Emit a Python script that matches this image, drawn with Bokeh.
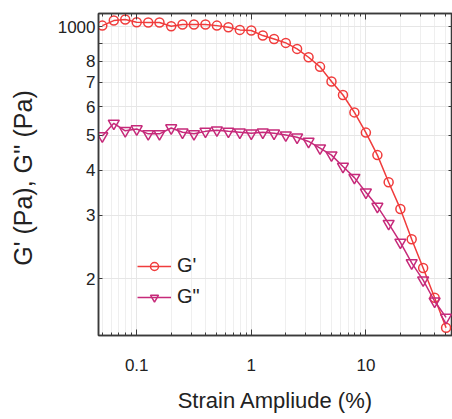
from bokeh.plotting import figure
from bokeh.models import (FixedTicker, LogAxis, CustomJSTickFormatter, Range1d)
from bokeh.embed import file_html
from bokeh.resources import INLINE

strain = [0.0501, 0.0631, 0.0794, 0.1, 0.126, 0.158, 0.2, 0.251, 0.316, 0.398,
          0.501, 0.631, 0.794, 1.0, 1.26, 1.58, 2.0, 2.51, 3.16, 3.98,
          5.01, 6.31, 7.94, 10.0, 12.6, 15.8, 20.0, 25.1, 31.6, 39.8, 50.1]
g_storage = [1006, 1039, 1046, 1028, 1026, 1026, 1002, 1013, 1013, 1013,
             1006, 996, 979, 975, 944, 924, 901, 867, 822, 773,
             704, 646, 578, 508, 440, 370, 312, 257, 214, 177, 146]
g_loss = [497, 539, 514, 520, 504, 504, 523, 509, 504, 512,
          516, 512, 509, 506, 509, 506, 500, 493, 480, 460,
          440, 409, 381, 347, 317, 284, 252, 221, 198, 173, 156]

x_ticks = [0.1, 1, 10]
y_ticks = [200, 300, 400, 500, 600, 700, 800, 900, 1000]
y_tick_labels = ["2", "3", "4", "5", "6", "7", "8", "", "1000"]

FONT = "Liberation Sans"
RED = "#f03c3c"
MAG = "#c62a7a"
FRAME = "#3a3a3a"

p = figure(width=452, height=419, x_axis_type="log", y_axis_type="log",
           x_range=Range1d(0.0464, 57), y_range=Range1d(139, 1087),
           output_backend="svg", toolbar_location=None,
           min_border_left=98, min_border_right=0, min_border_top=13, min_border_bottom=84,
           x_axis_label="Strain Ampliude (%)", y_axis_label="G' (Pa),  G'' (Pa)")

minor_x = []
for dec in [0.01, 0.1, 1, 10]:
    for m in range(2, 10):
        minor_x.append(dec * m)

xt = FixedTicker(ticks=x_ticks, minor_ticks=minor_x)
yt = FixedTicker(ticks=y_ticks, minor_ticks=[])

p.xaxis.ticker = xt
p.yaxis.ticker = yt
p.xaxis.major_label_overrides = {0.1: "0.1", 1: "1", 10: "10"}
p.yaxis.major_label_overrides = {t: l for t, l in zip(y_ticks, y_tick_labels)}

for ax in [p.xaxis[0], p.yaxis[0]]:
    ax.axis_line_color = FRAME
    ax.axis_line_width = 1.5
    ax.major_tick_line_color = FRAME
    ax.minor_tick_line_color = FRAME
    ax.major_tick_out = 0
    ax.minor_tick_out = 0
    ax.major_label_text_font = FONT
    ax.major_label_text_font_size = "17px"
    ax.major_label_text_color = "#222222"
    ax.axis_label_text_font = FONT
    ax.axis_label_text_font_style = "normal"
    ax.axis_label_text_color = "#222222"

p.xaxis.axis_label_text_font_size = "22px"
p.yaxis.axis_label_text_font_size = "25px"
p.xaxis.major_tick_in = 6
p.xaxis.minor_tick_in = 3
p.xaxis.major_label_standoff = 23
p.xaxis.axis_label_standoff = 14
p.yaxis.major_tick_in = 4
p.yaxis.minor_tick_in = 0
p.yaxis.major_label_standoff = 3
p.yaxis.axis_label_standoff = 18

blank = CustomJSTickFormatter(code="return ''")
top = LogAxis(ticker=FixedTicker(ticks=x_ticks, minor_ticks=minor_x), formatter=blank,
              major_tick_in=6, major_tick_out=0, minor_tick_in=3, minor_tick_out=0,
              major_label_standoff=0, axis_line_color=FRAME, axis_line_width=1.5,
              major_tick_line_color=FRAME, minor_tick_line_color=FRAME)
right = LogAxis(ticker=FixedTicker(ticks=y_ticks, minor_ticks=[]), formatter=blank,
                major_tick_in=4, major_tick_out=0, minor_tick_in=0, minor_tick_out=0,
                major_label_standoff=0, axis_line_color=FRAME, axis_line_width=1.5,
                major_tick_line_color=FRAME)
p.add_layout(top, "above")
p.add_layout(right, "right")

p.xgrid.ticker = xt
p.ygrid.ticker = yt
p.xgrid.grid_line_color = "#e6e6e6"
p.xgrid.minor_grid_line_color = "#efefef"
p.ygrid.grid_line_color = "#e6e6e6"
p.outline_line_color = FRAME
p.outline_line_width = 1.5

p.line(strain, g_storage, color=RED, line_width=1.5, legend_label="G'")
p.scatter(strain, g_storage, marker="circle", size=9, fill_color=None,
          line_color=RED, line_width=1.5, legend_label="G'")
p.line(strain, g_loss, color=MAG, line_width=1.5, legend_label='G"')
p.scatter(strain, g_loss, marker="inverted_triangle", size=11, fill_color=None,
          line_color=MAG, line_width=1.5, legend_label='G"')

lg = p.legend[0]
lg.location = (35, 23)
lg.background_fill_alpha = 0
lg.border_line_alpha = 0
lg.label_text_font = FONT
lg.label_text_font_size = "20px"
lg.label_text_color = "#222222"
lg.glyph_width = 34
lg.glyph_height = 20
lg.spacing = 8
lg.padding = 4
lg.label_standoff = 6

open("out.html", "w").write(file_html(p, INLINE))
